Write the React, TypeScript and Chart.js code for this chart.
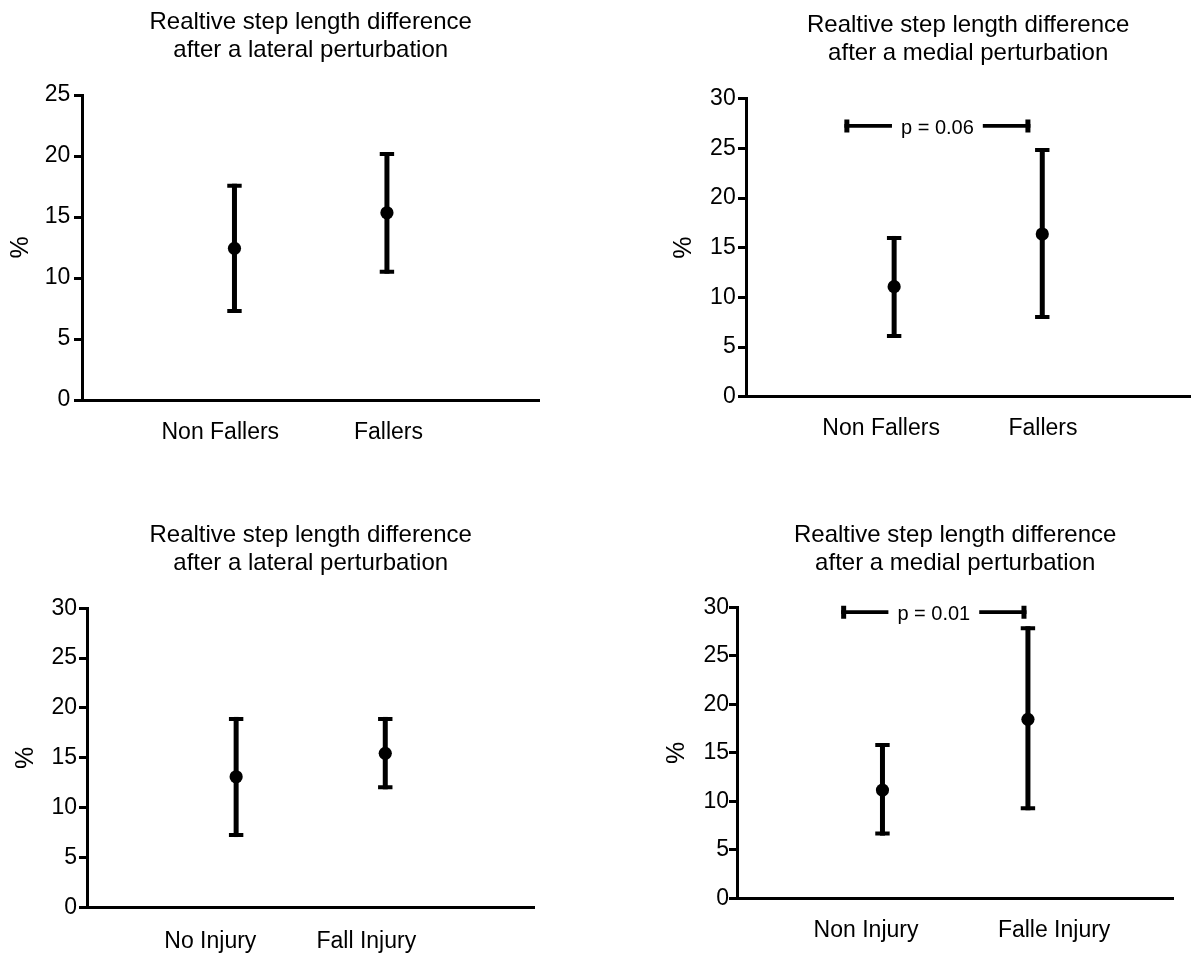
import React, { useEffect, useRef } from "react";
import { Chart, registerables } from "chart.js";

Chart.register(...registerables);

const FONT = "'Liberation Sans', Arial, Helvetica, sans-serif";

// ---------- Data ----------
const titleLateral = ["Realtive step length difference", "after a lateral perturbation"];
const titleMedial = ["Realtive step length difference", "after a medial perturbation"];
const yAxisLabel = "%";

// Panel A (top-left)
const categoriesA = ["Non Fallers", "Fallers"];
const labelPosA = [0.907, 2.01];
const meanA = [12.43, 15.35];
const upperA = [17.57, 20.16];
const lowerA = [7.3, 10.52];
const yTicksA = [0, 5, 10, 15, 20, 25];

// Panel B (top-right)
const categoriesB = ["Non Fallers", "Fallers"];
const labelPosB = [0.912, 2.005];
const meanB = [11.08, 16.38];
const upperB = [15.98, 24.83];
const lowerB = [6.11, 8.03];
const yTicksB = [0, 5, 10, 15, 20, 25, 30];
const bracketSpanB = [0.664, 1.92];
const bracketYB = 27.26;
const pLabelB = "p = 0.06";

// Panel C (bottom-left)
const categoriesC = ["No Injury", "Fall Injury"];
const labelPosC = [0.827, 1.873];
const meanC = [13.1, 15.45];
const upperC = [18.9, 18.9];
const lowerC = [7.25, 12.04];
const yTicksC = [0, 5, 10, 15, 20, 25, 30];

// Panel D (bottom-right)
const categoriesD = ["Non Injury", "Falle Injury"];
const labelPosD = [0.887, 2.18];
const meanD = [11.16, 18.45];
const upperD = [15.8, 27.84];
const lowerD = [6.67, 9.28];
const yTicksD = [0, 5, 10, 15, 20, 25, 30];
const bracketSpanD = [0.716, 1.99];
const bracketYD = 29.5;
const pLabelD = "p = 0.01";

// ---------- Layout (page pixels) ----------
type Layout = {
  left: number; top: number; width: number; height: number;
  area: { l: number; r: number; t: number; b: number };
  titleY: number; pctX: number; tickRight: number; catY: number;
};

const layoutA: Layout = { left: 0, top: 0, width: 546, height: 478, area: { l: 82, r: 542, t: 95, b: 400 }, titleY: 22, pctX: 21, tickRight: 69.3, catY: 433 };
const layoutB: Layout = { left: 620, top: 0, width: 577, height: 478, area: { l: 746, r: 1193.5, t: 98.7, b: 396.7 }, titleY: 25.5, pctX: 684, tickRight: 734.7, catY: 428.7 };
const layoutC: Layout = { left: 0, top: 500, width: 541, height: 456, area: { l: 87, r: 537, t: 608.3, b: 907.3 }, titleY: 535.8, pctX: 25.8, tickRight: 76, catY: 941.3 };
const layoutD: Layout = { left: 620, top: 500, width: 560, height: 456, area: { l: 737, r: 1176, t: 607.3, b: 898.3 }, titleY: 535.8, pctX: 677, tickRight: 728.7, catY: 931 };

type PanelData = {
  title: string[];
  categories: string[];
  labelPos: number[];
  mean: number[];
  upper: number[];
  lower: number[];
  yTicks: number[];
  bracketSpan?: number[];
  bracketY?: number;
  pLabel?: string;
};

const panels: { data: PanelData; layout: Layout }[] = [
  { data: { title: titleLateral, categories: categoriesA, labelPos: labelPosA, mean: meanA, upper: upperA, lower: lowerA, yTicks: yTicksA }, layout: layoutA },
  { data: { title: titleMedial, categories: categoriesB, labelPos: labelPosB, mean: meanB, upper: upperB, lower: lowerB, yTicks: yTicksB, bracketSpan: bracketSpanB, bracketY: bracketYB, pLabel: pLabelB }, layout: layoutB },
  { data: { title: titleLateral, categories: categoriesC, labelPos: labelPosC, mean: meanC, upper: upperC, lower: lowerC, yTicks: yTicksC }, layout: layoutC },
  { data: { title: titleMedial, categories: categoriesD, labelPos: labelPosD, mean: meanD, upper: upperD, lower: lowerD, yTicks: yTicksD, bracketSpan: bracketSpanD, bracketY: bracketYD, pLabel: pLabelD }, layout: layoutD },
];

function buildChart(canvas: HTMLCanvasElement, d: PanelData, L: Layout) {
  const titleSize = 24;
  const titleLH = 28;
  const tickSize = 23;
  const catSize = 23;
  const pctSize = 25;
  const tickLen = 8;
  const padL = 0;
  const padR = L.left + L.width - L.area.r;
  const Wy = L.area.l - L.left - padL;
  const Hx = L.top + L.height - L.area.b;
  const titlePadTop = L.titleY - L.top - titleLH / 2;
  const titlePadBottom = L.area.t - L.top - titlePadTop - titleLH * d.title.length;
  const pctLH = pctSize * 1.2;
  const pctPad = L.pctX - L.left - padL - pctLH / 2;
  const yTickPad = Math.max(0, L.area.l - tickLen - L.tickRight - 1);
  const catLH = catSize * 1.2;
  const xTickPad = L.catY - L.area.b - catLH / 2;

  const errorBars = {
    id: "errorBars",
    beforeDatasetsDraw(chart: any) {
      const xs = chart.scales.x;
      const ys = chart.scales.y;
      const ctx = chart.ctx;
      ctx.save();
      ctx.strokeStyle = "#000";
      ctx.lineCap = "butt";
      d.categories.forEach((_, i) => {
        const px = xs.getPixelForValue(i + 1);
        const yt = ys.getPixelForValue(d.upper[i]);
        const yb = ys.getPixelForValue(d.lower[i]);
        ctx.lineWidth = 5;
        ctx.beginPath();
        ctx.moveTo(px, yt - 2);
        ctx.lineTo(px, yb + 2);
        ctx.stroke();
        ctx.lineWidth = 4;
        ctx.beginPath();
        ctx.moveTo(px - 7.2, yt);
        ctx.lineTo(px + 7.2, yt);
        ctx.moveTo(px - 7.2, yb);
        ctx.lineTo(px + 7.2, yb);
        ctx.stroke();
      });
      ctx.restore();
    },
  };

  const bracket = {
    id: "bracket",
    afterDatasetsDraw(chart: any) {
      if (!d.bracketSpan || d.bracketY === undefined || !d.pLabel) return;
      const xs = chart.scales.x;
      const ys = chart.scales.y;
      const ctx = chart.ctx;
      const x1 = xs.getPixelForValue(d.bracketSpan[0]);
      const x2 = xs.getPixelForValue(d.bracketSpan[1]);
      const yy = ys.getPixelForValue(d.bracketY);
      ctx.save();
      ctx.font = `20px ${FONT}`;
      const tw = ctx.measureText(d.pLabel).width;
      const mid = (x1 + x2) / 2;
      const gap = 9;
      ctx.strokeStyle = "#000";
      ctx.lineWidth = 3.8;
      ctx.beginPath();
      ctx.moveTo(x1, yy);
      ctx.lineTo(mid - tw / 2 - gap, yy);
      ctx.moveTo(mid + tw / 2 + gap, yy);
      ctx.lineTo(x2, yy);
      ctx.stroke();
      ctx.lineWidth = 5;
      ctx.beginPath();
      ctx.moveTo(x1 + 2.5, yy - 6.5);
      ctx.lineTo(x1 + 2.5, yy + 6.5);
      ctx.moveTo(x2 - 2.5, yy - 6.5);
      ctx.lineTo(x2 - 2.5, yy + 6.5);
      ctx.stroke();
      ctx.fillStyle = "#000";
      ctx.textAlign = "center";
      ctx.textBaseline = "middle";
      ctx.fillText(d.pLabel, mid, yy + 2.5);
      ctx.restore();
    },
  };

  return new Chart(canvas, {
    type: "scatter",
    data: {
      datasets: [
        {
          data: d.categories.map((_, i) => ({ x: i + 1, y: d.mean[i] })),
          backgroundColor: "#000",
          borderColor: "#000",
          borderWidth: 0,
          pointRadius: 6.6,
          pointHoverRadius: 6.6,
          showLine: false,
        },
      ],
    },
    options: {
      responsive: false,
      animation: false,
      devicePixelRatio: 1,
      events: [],
      layout: { padding: { left: padL, right: padR, top: 0, bottom: 0 } },
      plugins: {
        legend: { display: false },
        tooltip: { enabled: false },
        title: {
          display: true,
          text: d.title,
          fullSize: false,
          color: "#000",
          font: { family: FONT, size: titleSize, weight: "normal", lineHeight: titleLH / titleSize },
          padding: { top: titlePadTop, bottom: titlePadBottom },
        },
      },
      scales: {
        x: {
          type: "linear",
          min: 0,
          max: 3,
          afterBuildTicks: (s: any) => {
            s.ticks = d.labelPos.map((v) => ({ value: v }));
          },
          afterFit: (s: any) => {
            s.height = Hx;
          },
          ticks: {
            autoSkip: false,
            maxRotation: 0,
            color: "#000",
            padding: xTickPad,
            font: { family: FONT, size: catSize },
            callback: (_v: any, index: number) => d.categories[index] ?? "",
          },
          grid: { display: true, drawOnChartArea: false, drawTicks: false },
          border: { display: true, color: "#000", width: 3 },
        },
        y: {
          type: "linear",
          min: d.yTicks[0],
          max: d.yTicks[d.yTicks.length - 1],
          afterBuildTicks: (s: any) => {
            s.ticks = d.yTicks.map((v) => ({ value: v }));
          },
          afterFit: (s: any) => {
            s.width = Wy;
          },
          ticks: {
            color: "#000",
            padding: yTickPad,
            font: { family: FONT, size: tickSize },
            callback: (v: any) => String(v),
          },
          grid: { display: true, drawOnChartArea: false, drawTicks: true, tickLength: tickLen, tickWidth: 3, tickColor: "#000" },
          border: { display: true, color: "#000", width: 3 },
          title: {
            display: true,
            text: yAxisLabel,
            color: "#000",
            font: { family: FONT, size: pctSize },
            padding: { top: pctPad, bottom: 0 },
          },
        },
      },
    } as any,
    plugins: [errorBars, bracket],
  });
}

function Panel({ data, layout }: { data: PanelData; layout: Layout }) {
  const ref = useRef<HTMLCanvasElement>(null);
  useEffect(() => {
    if (!ref.current) return;
    const chart = buildChart(ref.current, data, layout);
    return () => chart.destroy();
  }, [data, layout]);
  return (
    <canvas
      ref={ref}
      width={layout.width}
      height={layout.height}
      style={{ position: "absolute", left: layout.left, top: layout.top, width: layout.width, height: layout.height }}
    />
  );
}

export default function App() {
  return (
    <div style={{ position: "fixed", left: 0, top: 0, width: 1197, height: 956, overflow: "hidden", background: "#fff" }}>
      {panels.map((p, i) => (
        <Panel key={i} data={p.data} layout={p.layout} />
      ))}
    </div>
  );
}
